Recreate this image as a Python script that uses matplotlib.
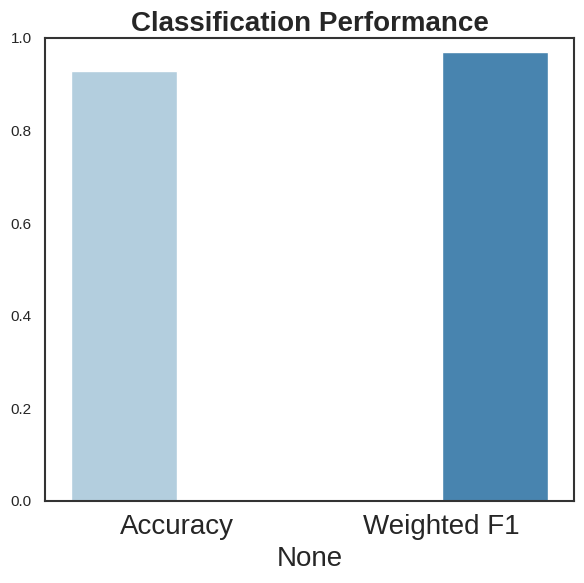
import numpy as np
import pandas as pd
import matplotlib
matplotlib.use("Agg")
import matplotlib.pyplot as plt
import seaborn as sns

metrics = ["Accuracy", "Weighted F1"]
scores = [0.928, 0.970]

sns.set_theme(style="white")
plt.rcParams["font.family"] = ["Liberation Sans", "DejaVu Sans"]

df = pd.DataFrame({"metric": metrics, "score": scores})

fig, ax = plt.subplots(figsize=(5.84, 5.83), dpi=100)
sns.barplot(data=df, x="metric", y="score", hue="metric", palette="Blues",
            dodge=True, legend=False, ax=ax)

ax.set_ylim(0, 1.0)
ax.set_xlim(-0.5, 1.5)
ax.set_title("Classification Performance", fontsize=20, fontweight="bold", pad=5)
ax.set_xlabel("None", fontsize=20, labelpad=4)
ax.set_ylabel("")
ax.tick_params(axis="x", labelsize=20)
ax.tick_params(axis="y", labelsize=11)
for s in ax.spines.values():
    s.set_color("#333333")
    s.set_linewidth(1.5)

plt.subplots_adjust(left=0.077, right=0.983, top=0.935, bottom=0.141)
fig.savefig("out.png", dpi=100)
